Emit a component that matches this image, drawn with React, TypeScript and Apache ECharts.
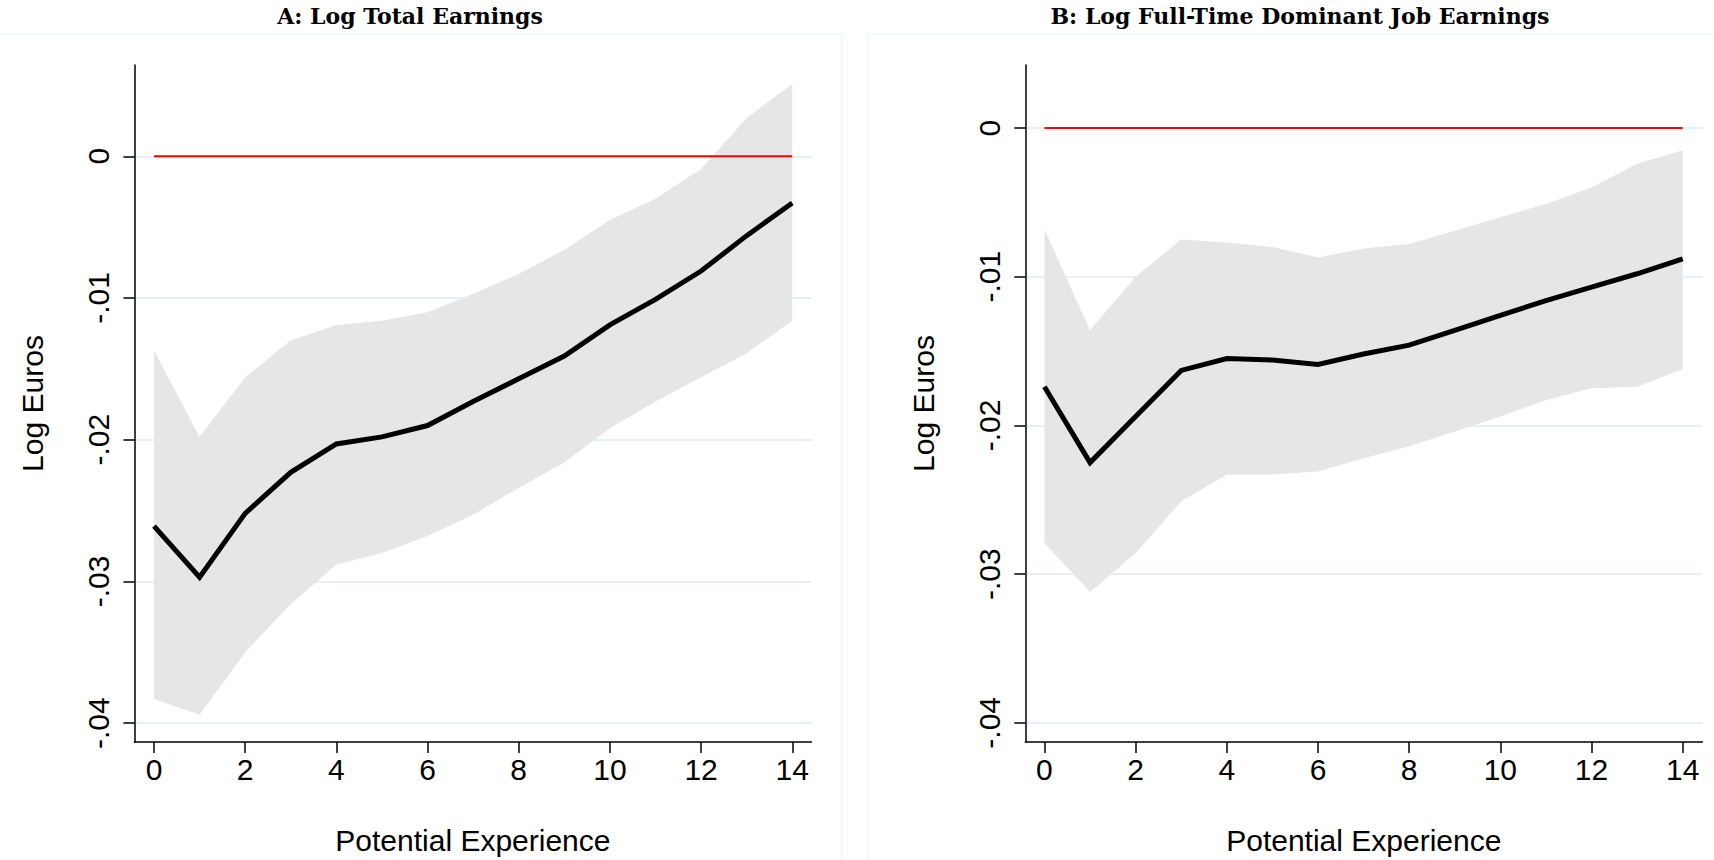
import React, { useEffect, useRef } from "react";
import * as echarts from "echarts";

// ---------- data ----------
const XS = [0, 1, 2, 3, 4, 5, 6, 7, 8, 9, 10, 11, 12, 13, 14];

const A_EST = [-0.0261, -0.0297, -0.0252, -0.0223, -0.0203, -0.0198, -0.019, -0.0173, -0.0157, -0.0141, -0.0119, -0.0101, -0.0081, -0.0056, -0.0033];
const A_HI = [-0.0137, -0.0198, -0.0156, -0.013, -0.0119, -0.0116, -0.011, -0.0097, -0.0083, -0.0066, -0.0045, -0.003, -0.0009, 0.0027, 0.0051];
const A_LO = [-0.0383, -0.0394, -0.035, -0.0316, -0.0288, -0.028, -0.0268, -0.0253, -0.0234, -0.0216, -0.0192, -0.0173, -0.0156, -0.0139, -0.0116];

const B_EST = [-0.0174, -0.0225, -0.0194, -0.0163, -0.0155, -0.0156, -0.0159, -0.0152, -0.0146, -0.0136, -0.0126, -0.0116, -0.0107, -0.0098, -0.0088];
const B_HI = [-0.0068, -0.0136, -0.01, -0.0075, -0.0077, -0.008, -0.0087, -0.0081, -0.0078, -0.0069, -0.006, -0.0051, -0.004, -0.0024, -0.0015];
const B_LO = [-0.0279, -0.0312, -0.0286, -0.0251, -0.0233, -0.0233, -0.0231, -0.0222, -0.0214, -0.0204, -0.0194, -0.0183, -0.0175, -0.0174, -0.0162];

const X_TICKS = [0, 2, 4, 6, 8, 10, 12, 14];
const Y_TICKS = [-0.04, -0.03, -0.02, -0.01, 0];

const TITLE_A = "A: Log Total Earnings";
const TITLE_B = "B: Log Full-Time Dominant Job Earnings";
const X_NAME = "Potential Experience";
const Y_NAME = "Log Euros";

// ---------- styling ----------
const SANS = '"Liberation Sans", Arial, sans-serif';
const SERIF = '"DejaVu Serif", serif';
const GRID_COLOR = "#e8f0f2";
const BAND_COLOR = "#e6e6e6";

function yFmt(v: number): string {
  if (Math.abs(v) < 1e-9) return "0";
  return v.toFixed(2).replace("0.", ".");
}

function makeX(idx: number, min: number, max: number) {
  return {
    type: "value",
    gridIndex: idx,
    min,
    max,
    axisLine: { show: true, onZero: false, lineStyle: { color: "#000", width: 1.5 } },
    axisTick: { show: true, customValues: X_TICKS, length: 11, lineStyle: { color: "#000", width: 1.5 } },
    axisLabel: { customValues: X_TICKS, fontSize: 30, fontFamily: SANS, color: "#000", margin: 12 },
    splitLine: { show: false },
    name: X_NAME,
    nameLocation: "middle",
    nameGap: 83,
    nameTextStyle: { fontSize: 30, fontFamily: SANS, color: "#000" },
  };
}

function makeY(idx: number, min: number, max: number) {
  return {
    type: "value",
    gridIndex: idx,
    min,
    max,
    axisLine: { show: true, onZero: false, lineStyle: { color: "#000", width: 1.5 } },
    axisTick: { show: true, customValues: Y_TICKS, length: 11, lineStyle: { color: "#000", width: 1.5 } },
    axisLabel: {
      customValues: Y_TICKS,
      rotate: 90,
      formatter: yFmt,
      fontSize: 30,
      fontFamily: SANS,
      color: "#000",
      margin: 21,
    },
    splitLine: { show: true, lineStyle: { color: GRID_COLOR, width: 2 } },
    name: Y_NAME,
    nameLocation: "middle",
    nameRotate: 90,
    nameGap: 87,
    nameTextStyle: { fontSize: 30, fontFamily: SANS, color: "#000" },
  };
}

function panelSeries(idx: number, est: number[], hi: number[], lo: number[]) {
  return [
    {
      type: "custom",
      xAxisIndex: idx,
      yAxisIndex: idx,
      data: XS.map((x, i) => [x, lo[i], hi[i]]),
      encode: { x: 0, y: [1, 2] },
      silent: true,
      z: 1,
      renderItem: (params: any, api: any) => {
        if (params.dataIndex !== 0) return null;
        const upper = XS.map((x, i) => api.coord([x, hi[i]]));
        const lower = XS.map((x, i) => api.coord([x, lo[i]])).reverse();
        return {
          type: "polygon",
          shape: { points: upper.concat(lower) },
          style: { fill: BAND_COLOR, stroke: "none" },
        };
      },
    },
    {
      type: "line",
      xAxisIndex: idx,
      yAxisIndex: idx,
      data: XS.map((x) => [x, 0]),
      symbol: "none",
      lineStyle: { color: "#ff0000", width: 2 },
      silent: true,
      z: 2,
    },
    {
      type: "line",
      xAxisIndex: idx,
      yAxisIndex: idx,
      data: XS.map((x, i) => [x, est[i]]),
      symbol: "none",
      lineStyle: { color: "#000", width: 5, join: "miter", cap: "butt" },
      silent: true,
      z: 3,
    },
  ];
}

export default function App() {
  const ref = useRef<HTMLDivElement>(null);

  useEffect(() => {
    if (!ref.current) return;
    const chart = echarts.init(ref.current, undefined, { renderer: "svg" });
    const titleStyle = { fontFamily: SERIF, fontWeight: "bold", fontSize: 22, color: "#000" };
    const option = {
      animation: false,
      backgroundColor: "#ffffff",
      title: [
        { text: TITLE_A, left: 410, top: 5, textAlign: "center", padding: 0, textStyle: titleStyle },
        { text: TITLE_B, left: 1300, top: 5, textAlign: "center", padding: 0, textStyle: titleStyle },
      ],
      graphic: [
        {
          type: "rect",
          shape: { x: -5, y: 34, width: 847, height: 840 },
          style: { fill: "none", stroke: "#eaf1f2", lineWidth: 1 },
          silent: true,
        },
        {
          type: "rect",
          shape: { x: 868, y: 34, width: 860, height: 840 },
          style: { fill: "none", stroke: "#eaf1f2", lineWidth: 1 },
          silent: true,
        },
      ],
      grid: [
        { left: 134.4, top: 65, width: 677, height: 677, containLabel: false, outerBoundsMode: "none" },
        { left: 1025.3, top: 65, width: 677, height: 677, containLabel: false, outerBoundsMode: "none" },
      ],
      xAxis: [makeX(0, -0.43, 14.42), makeX(1, -0.42, 14.43)],
      yAxis: [makeY(0, -0.04133, 0.00644), makeY(1, -0.04129, 0.00424)],
      series: [...panelSeries(0, A_EST, A_HI, A_LO), ...panelSeries(1, B_EST, B_HI, B_LO)],
    };
    chart.setOption(option as any);
    return () => chart.dispose();
  }, []);

  return (
    <div
      ref={ref}
      style={{ position: "fixed", left: 0, top: 0, width: 1714, height: 860, background: "#fff" }}
    />
  );
}
